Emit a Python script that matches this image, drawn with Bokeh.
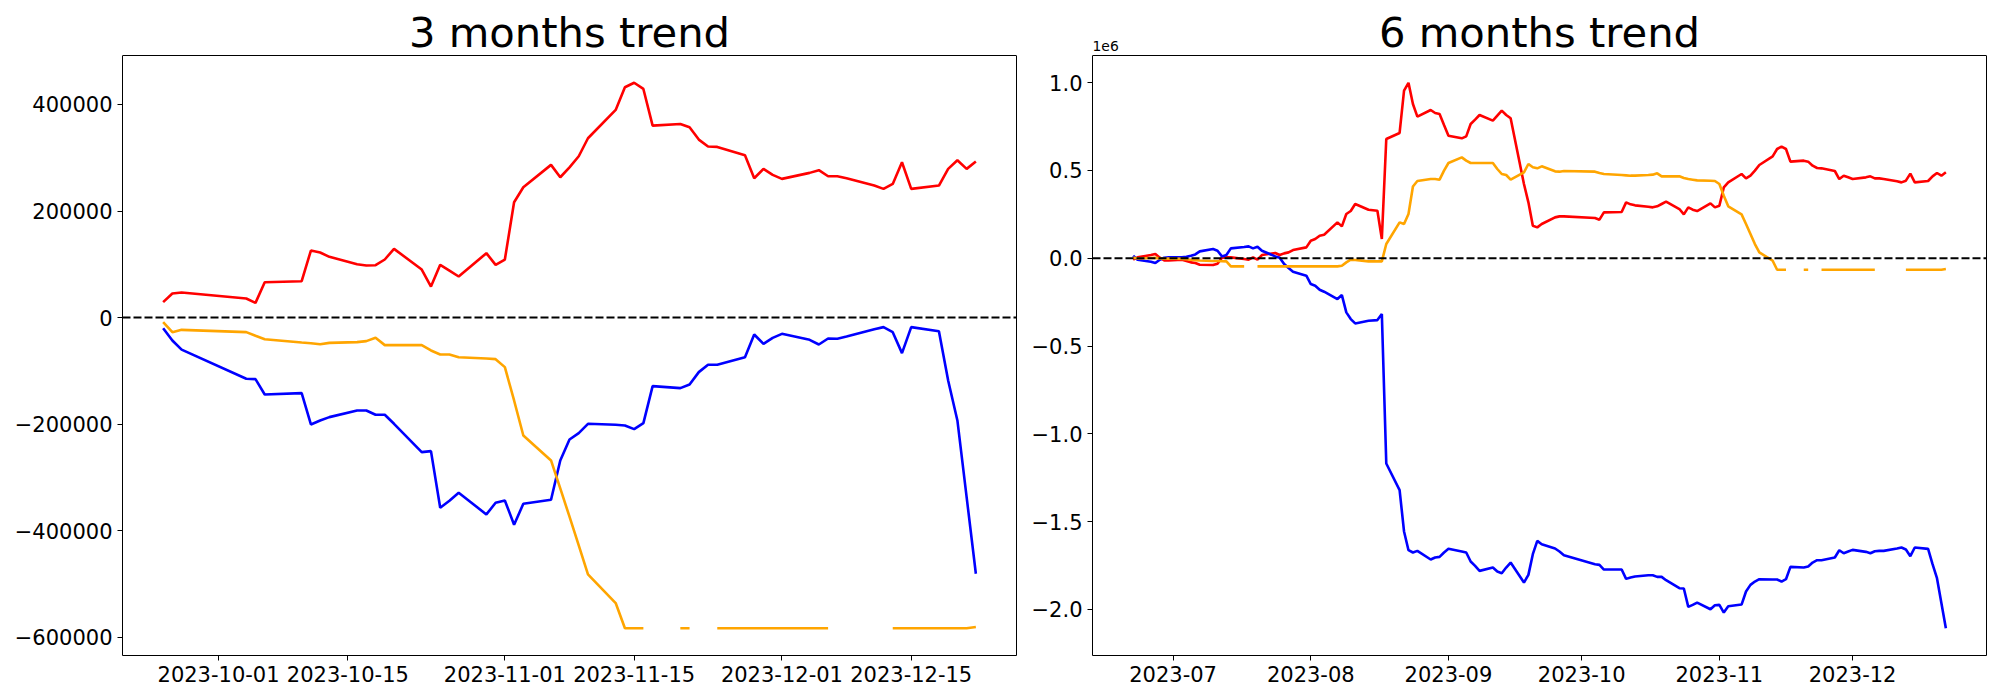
import numpy as np
import pandas as pd
from bokeh.plotting import figure
from bokeh.layouts import row
from bokeh.models import (Span, Label, FixedTicker, Range1d, ColumnDataSource, LinearAxis,
                          DatetimeTickFormatter, CustomJSTickFormatter)
from bokeh.embed import file_html
from bokeh.resources import INLINE

nan = float("nan")

# ---- data -------------------------------------------------------------
krx_holidays = ["2023-08-15", "2023-09-28", "2023-09-29", "2023-10-02",
                "2023-10-03", "2023-10-09"]
dates_6m = pd.bdate_range("2023-06-22", "2023-12-22", freq="C", holidays=krx_holidays)
dates_3m = dates_6m[dates_6m >= "2023-09-25"]

red_3m = [28800, 45000, 46900, 35700, 27500, 66300, 68200, 125800, 122000, 113900,
          100100, 97600, 98200, 108900, 128900, 90100, 58200, 98900, 88200, 77000,
          120800, 98900, 108900, 216500, 244600, 286600, 263400, 282000, 302800, 336600,
          389800, 432400, 440800, 429200, 360400, 363500, 357300, 334100, 321000, 320400,
          304700, 261500, 279100, 267800, 260300, 271600, 276600, 265300, 265300, 261500,
          247800, 241500, 250900, 291600, 241500, 247800, 279100, 295300, 279100, 292800]
blue_3m = [-20000, -43200, -60400, -115100, -115800, -144500, -142000, -200800, -193300, -187100,
           -174700, -174700, -182700, -182700, -199600, -252800, -250900, -357300, -344200, -329100,
           -369800, -347900, -343500, -389100, -349800, -342300, -268400, -229000, -217100, -199600,
           -201500, -202700, -209600, -198300, -128900, -132600, -125800, -102600, -88800, -88800,
           -74500, -31900, -49400, -38200, -30700, -41900, -50700, -39400, -40000, -35700,
           -21900, -18100, -27500, -66900, -18100, -25700, -118300, -193300, -337200, -481200]
orange_3m = [-8800, -27500, -23200, -27500, -34400, -40700, -46900, -48200, -50100, -47600,
             -46300, -44400, -38200, -51900, -51900, -51900, -61900, -69500, -69500, -74500,
             -77000, -78200, -93200, -155800, -221500, -268400, -321000, -374000, -428000, -482400,
             -536200, -583500, -583500, -583500, nan, -583500, -583500, nan, nan, -583500,
             -583500, -583500, -583500, -583500, -583500, -583500, -583500, -583500, nan, nan,
             nan, nan, -583500, -583500, -583500, -583500, -583500, -583500, -583500, -581300]

red_6m = [-8500, 4700, 18000, 23700, 2800, -12300, -12300,
          -8500, -16100, -23700, -27500, -37000, -38900, -31300, 2800, 4700, 4700,
          -4700, -8500, 4700, -8500, 18000, 29400, 18000, 27500, 33200, 46500, 61700,
          99700, 109200, 128200, 133900, 204100, 181400, 251600, 268700, 308600,
          276300, 270600, 109200, 678900, 713100, 954300, 999000, 878300, 806100,
          844100, 827000, 821300, 758700,
          697900, 682700, 694100, 764400, 789000, 815600, 783300, 811800, 840300, 815600,
          796600, 422500, 318100, 185200, 175700, 194600, 232600, 238300, 238300,
          228800, 219300, 261100, 263000, 318100, 306700, 301000, 293400, 289600, 295300,
          308600, 321900, 280100, 249700, 289600, 276300, 268700, 312400, 289600, 299100,
          403500, 432000, 479500, 454800, 470000, 498500, 530800, 580200, 621900, 635200,
          621900, 549800, 555500, 549800, 527000, 513700, 511800, 496600, 451000, 470000,
          460500, 451000, 460500, 466200, 454800, 454800, 451000, 437700, 431900, 441500,
          481400, 431900, 439600, 466200, 485200, 470000, 489000]
blue_6m = [14200, -8500, -19900, -27500, -8500, 2800, 4700,
           4700, 8500, 14200, 21800, 38900, 52200, 42700, 10400, 18000, 56000,
           63600, 67400, 56000, 65500, 42700, 10400, 2800, -33200, -56000, -76900, -99700,
           -147200, -156700, -179500, -190800, -232600, -209800, -308600, -346600, -371300,
           -356100, -352300, -318100, -1168800, -1320800, -1556200, -1662700, -1675900, -1666400,
           -1715800, -1704400, -1700600, -1675900,
           -1655000, -1670200, -1675900, -1727200, -1751900, -1780400, -1761400, -1784200, -1793700,
           -1761400, -1732900, -1846800, -1803100, -1685400, -1609400, -1628400, -1653100, -1670200,
           -1691100,
           -1742400, -1746200, -1772800, -1772800, -1826000, -1818400, -1812600, -1805000, -1805000,
           -1814500, -1814500, -1833500, -1879100, -1881000, -1985500, -1974100, -1960800, -1998800,
           -1976000, -1974100, -2017700, -1981700, -1972200, -1898100, -1860100, -1841100, -1827800,
           -1829700, -1829700, -1841100, -1827800, -1757600, -1761400, -1755700, -1732900, -1719600,
           -1719600, -1704400, -1662700, -1679800, -1670200, -1660700, -1672100, -1679800, -1668400,
           -1666400, -1666400, -1653100, -1647400, -1658800, -1696800, -1647400, -1655000, -1742400,
           -1822100, -1965000, -2107000]
orange_6m = [4700, -2000, 1000, 2000, -1000, -3000, -2000,
             -4000, -6000, -9000, -11000, -13000, -16000, -16000, -17000, -18000, -46500,
             -46500, nan, nan, -46500, -46500, -46500, -46500, -46500, -46500, -46500, -46500,
             -46500, -46500, -46500, -46500, -46500, -42700, -23700, -8500, -10400,
             -18000, -18000, -18000, 80700, 204100, 194600, 251600, 408300, 439600,
             451000, 451000, 447200, 498500,
             542200, 574400, 555500, 542200, 542200, 542200, 542200, 508000, 479500, 473800,
             447200, 489000, 536500, 517500, 511800, 523200, 494700, 492800, 496600,
             492800, 485200, 479500, 473800, 471900, 470000, 470000, 473800, 475700, 483300,
             466200, 466200, 466200, 456700, 451000, 447200, 443400, 441500, 439600, 422600,
             356100, 295300, 249700, 194600, 137700, 80700, 33200, -14200, -65500, -65500,
             -65500, nan, -65500, -65500, nan, nan, -65500, -65500, -65500, -65500,
             -65500, -65500, -65500, -65500, -65500, nan, nan, nan, nan, -65500,
             -65500, -65500, -65500, -65500, -65500, -65500, -61700]

ticks_3m = ["2023-10-01", "2023-10-15", "2023-11-01", "2023-11-15", "2023-12-01", "2023-12-15"]
ticks_6m = ["2023-07-01", "2023-08-01", "2023-09-01", "2023-10-01", "2023-11-01", "2023-12-01"]
yticks_3m = [-600000, -400000, -200000, 0, 200000, 400000]
yticks_6m = [-2000000, -1500000, -1000000, -500000, 0, 500000, 1000000]

assert len(dates_3m) == len(red_3m) == len(blue_3m) == len(orange_3m)
assert len(dates_6m) == len(red_6m) == len(blue_6m) == len(orange_6m)

FONT = "DejaVu Sans"
H = 700
HEAD = 55          # px between canvas top and the top of the data box
BOTTOM = 45
DATA_H = H - HEAD - BOTTOM
TITLE_PX = 41.7
OFFSET_PX = 13.9


def ms(ts):
    return pd.Timestamp(ts).value / 1e6


def make_panel(title, dates, red, blue, orange, xticks, yticks, fmt, yfmt_code,
               width, bl, br, offset_text=None):
    d0, d1 = ms(dates[0]), ms(dates[-1])
    xpad = 0.05 * (d1 - d0)
    allv = np.array(red + blue + orange, dtype=float)
    vmin, vmax = np.nanmin(allv), np.nanmax(allv)
    ypad = 0.05 * (vmax - vmin)
    ylo, yhi = vmin - ypad, vmax + ypad
    upp = (yhi - ylo) / DATA_H
    xr = Range1d(d0 - xpad, d1 + xpad)
    # frame reaches up to the canvas top so that title texts sit inside it
    yr = Range1d(ylo, yhi + HEAD * upp)
    p = figure(width=width, height=H, x_axis_type="datetime", x_range=xr, y_range=yr,
               output_backend="svg", toolbar_location=None,
               min_border_left=bl, min_border_right=br,
               min_border_top=0, min_border_bottom=BOTTOM)
    p.title.visible = False
    p.xgrid.visible = False
    p.ygrid.visible = False
    p.outline_line_color = None
    p.background_fill_color = "white"
    p.border_fill_color = "white"

    src = ColumnDataSource(dict(x=dates, red=red, blue=blue, orange=orange))
    p.line("x", "red", source=src, line_color="red", line_width=2.6)
    p.line("x", "blue", source=src, line_color="blue", line_width=2.6)
    p.line("x", "orange", source=src, line_color="orange", line_width=2.6)
    p.add_layout(Span(location=0, dimension="width", line_color="black",
                      line_dash="8 3", line_width=2.1))
    # top edge of the axes box
    p.add_layout(Span(location=yhi, dimension="width", line_color="black", line_width=1))
    # right edge of the axes box
    ra = LinearAxis(bounds=(ylo, yhi), ticker=FixedTicker(ticks=[]),
                    major_tick_out=0, major_tick_in=0, minor_tick_out=0, minor_tick_in=0,
                    major_label_standoff=0, major_label_text_font_size="0px",
                    axis_line_color="black", axis_line_width=1)
    p.add_layout(ra, "right")

    p.xaxis[0].ticker = FixedTicker(ticks=[ms(t) for t in xticks])
    p.xaxis[0].formatter = DatetimeTickFormatter(days=fmt, months=fmt, years=fmt,
                                                 hours=fmt, minutes=fmt, seconds=fmt,
                                                 milliseconds=fmt, microseconds=fmt,
                                                 hourmin=fmt, minsec=fmt)
    ly = p.left[0]
    ly.ticker = FixedTicker(ticks=yticks)
    ly.formatter = CustomJSTickFormatter(code=yfmt_code)
    ly.bounds = (ylo, yhi)
    for ax in (p.xaxis[0], ly):
        ax.major_label_text_font = FONT
        ax.major_label_text_font_size = "21px"
        ax.major_label_text_color = "black"
        ax.major_tick_in = 0
        ax.major_tick_out = 5
        ax.minor_tick_in = 0
        ax.minor_tick_out = 0
        ax.major_label_standoff = 5
        ax.axis_line_color = "black"
        ax.axis_line_width = 1
        ax.major_tick_line_color = "black"

    # texts are centred vertically on y; baseline is ~0.346 em below the centre
    p.add_layout(Label(x=(xr.start + xr.end) / 2,
                       y=yhi + (8.3 + 0.346 * TITLE_PX) * upp,
                       text=title, text_align="center", text_baseline="middle",
                       text_font=FONT, text_font_size=f"{TITLE_PX}px", text_color="black"))
    if offset_text:
        p.add_layout(Label(x=xr.start, y=yhi + (5 + 0.346 * OFFSET_PX) * upp,
                           text=offset_text, text_align="left", text_baseline="middle",
                           text_font=FONT, text_font_size=f"{OFFSET_PX}px", text_color="black"))
    return p


fmt_left = ("const s = Math.abs(tick).toFixed(0);"
            "return tick < 0 ? '\\u2212' + s : s;")
fmt_right = ("const v = tick / 1e6; const s = Math.abs(v).toFixed(1);"
             "return v < -1e-9 ? '\\u2212' + s : s;")

p1 = make_panel("3 months trend", dates_3m, red_3m, blue_3m, orange_3m,
                ticks_3m, yticks_3m, "%Y-%m-%d", fmt_left, 1024, 122, 8)
p2 = make_panel("6 months trend", dates_6m, red_6m, blue_6m, orange_6m,
                ticks_6m, yticks_6m, "%Y-%m", fmt_right, 976, 68, 14, offset_text="1e6")

layout = row(p1, p2)
open("out.html", "w").write(file_html(layout, INLINE))
